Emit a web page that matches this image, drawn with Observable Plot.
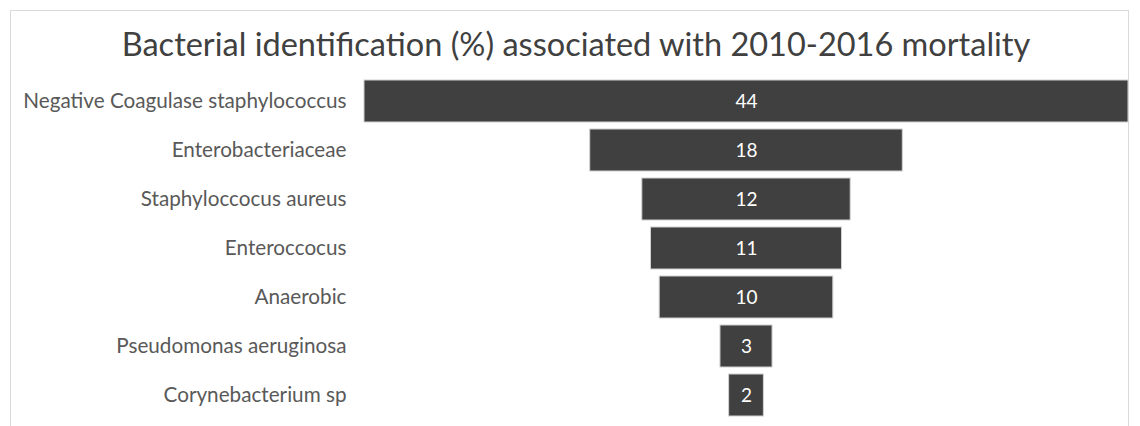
<!DOCTYPE html>
<html>
<head>
<meta charset="utf-8">
<script src="https://cdn.jsdelivr.net/npm/d3@7"></script>
<script src="https://cdn.jsdelivr.net/npm/@observablehq/plot@0.6"></script>
<style>
  html, body { margin: 0; padding: 0; background: #fff; }
  body { width: 1140px; height: 426px; position: relative; overflow: hidden; font-family: Lato, "Open Sans", sans-serif; }
  #frame { position: absolute; left: 10px; top: 10px; width: 1119px; height: 430px; border: 1px solid #d9d9d9; box-sizing: border-box; }
  #title { position: absolute; left: 0; top: 22px; width: 1152px; text-align: center; font-size: 32.5px; color: #404040; line-height: 44px; }
  #chart { position: absolute; left: 0; top: 72px; }
</style>
</head>
<body>
<div id="frame"></div>
<div id="title">Bacterial identification (%) associated with 2010-2016 mortality</div>
<div id="chart"></div>
<script>
const categories = [
  "Negative Coagulase staphylococcus",
  "Enterobacteriaceae",
  "Staphyloccocus aureus",
  "Enteroccocus",
  "Anaerobic",
  "Pseudomonas aeruginosa",
  "Corynebacterium sp"
];
const values = [44, 18, 12, 11, 10, 3, 2];

const data = categories.map((c, i) => ({category: c, value: values[i]}));

const plot = Plot.plot({
  width: 1140,
  height: 354,
  marginLeft: 364,
  marginRight: 12,
  marginTop: 1,
  marginBottom: 3,
  style: {fontFamily: "Lato, 'Open Sans', sans-serif", fontSize: "20.7px", color: "#595959", background: "transparent"},
  x: {domain: [-22, 22], axis: null},
  y: {domain: categories, padding: 0.14, label: null, tickSize: 0, tickPadding: 18},
  marks: [
    Plot.barX(data, {y: "category", x1: d => -d.value / 2, x2: d => d.value / 2, fill: "#404040", stroke: "#d0d0d0", strokeWidth: 1}),
    Plot.text(data, {y: "category", x: 0, text: d => String(d.value), fill: "#ffffff", fontSize: 19})
  ]
});
document.getElementById("chart").appendChild(plot);
</script>
</body>
</html>
